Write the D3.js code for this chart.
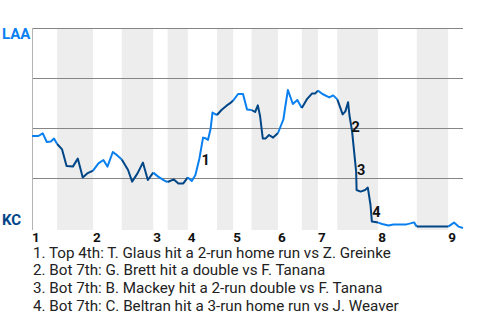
<!DOCTYPE html>
<html>
<head>
    <title>win probability</title>
    <script type="text/javascript" src="https://cdn.jsdelivr.net/npm/d3@7/dist/d3.min.js"></script>
    <style type="text/css">
        body {
            margin: 0;
            background-color: #fff;
        }
        #chart text {
            font-family: Roboto, "Noto Sans", sans-serif;
        }
        .grid line {
            stroke: #858585;
            stroke-width: 1px;
        }
        .band {
            fill: #ededed;
        }
        .inning {
            font-size: 13.5px;
            font-weight: bold;
            fill: #111;
        }
        .note {
            font-size: 14.5px;
            font-weight: bold;
            fill: #111;
        }
        .legend {
            font-size: 15.2px;
            fill: #222;
        }
    </style>
</head>

<body>
    <svg id="chart" width="480" height="320"></svg>
</body>

<script type="text/javascript">
    // play number (game progress) and LAA win probability in %
    let plays = [0, 1.4, 2.4, 3.3, 4.2, 4.9, 5.6, 6.7, 7.7, 9.1, 10.2, 11.3, 12.3, 13.6,
        14.8, 15.9, 16.8, 18.0, 19.0, 20.0, 21.4, 22.3, 23.5, 24.7, 25.8, 27.0,
        28.1, 29.5, 30.2, 31.6, 32.6, 33.7, 34.7, 35.6, 36.4, 37.3, 38.1, 38.6,
        39.2, 39.8, 40.2, 40.5, 41.2, 42.2, 43.4, 44.3, 44.8, 45.9, 47.0, 47.9,
        48.9, 49.7, 50.3, 50.8, 51.4, 52.0, 52.8, 53.7, 54.8, 55.5, 56.0, 56.3,
        57.0, 58.1, 59.1, 60.1, 61.2, 62.4, 63.1, 63.7, 64.7, 66.2, 67.1, 68.0,
        69.2, 69.8, 70.4, 70.7, 71.3, 72.2, 72.3, 73.2, 74.2, 74.8, 75.4, 75.7,
        77.1, 78.0, 79.4, 80.5, 83.4, 84.3, 85.1, 85.7, 92.7, 94.0, 95.0, 96];
    let winProb = [46, 46, 47.3, 43, 43.3, 44.7, 42, 39.3, 31, 30.7, 34.7, 25.3, 27.3, 28.7,
        32.3, 34, 30.7, 38, 36.3, 34.3, 29, 23.2, 27.3, 32.7, 24, 27.7,
        25.7, 23.7, 23, 24.3, 22.3, 22.3, 25.3, 23.5, 26.5, 34.9, 45.2, 44.9,
        44, 49.9, 57.7, 57.3, 56.5, 59, 61.3, 62.7, 63.7, 67, 67, 59.3,
        59, 58, 61.3, 56, 44.8, 44.7, 46.5, 45.2, 47.5, 51.5, 54.3, 59,
        69, 62, 64, 60, 64.3, 67.3, 67.3, 68.7, 67, 65.3, 66.3, 64.3,
        56.8, 58.3, 62.9, 56.5, 48.2, 28.2, 19, 18.2, 19, 20.2, 11.5, 3.2,
        2.7, 2, 1.3, 1.7, 1.8, 2.3, 2.8, 0.7, 0.7, 2.7, 0.7, 0];

    // play number where each half inning starts (top 1st, bot 1st, top 2nd ...)
    let halfStarts = [0, 5.6, 13.6, 20.0, 27.0, 30.2, 34.7, 41.2, 44.8, 48.9,
        54.8, 60.1, 63.7, 68.0, 77.1, 85.7, 92.7];
    let lastPlay = 96;
    let innings = ["1", "2", "3", "4", "5", "6", "7", "8", "9"];
    let gridProb = [100, 75, 50, 25];

    let teams = ["LAA", "KC"];
    let teamColors = ["#0a80f0", "#004687"];

    let notePlays = [38.7, 72.1, 73.3, 76.7];
    let noteProb = [33.7, 50.4, 28.7, 7.7];
    let noteTexts = [
        "1. Top 4th: T. Glaus hit a 2-run home run vs Z. Greinke",
        "2. Bot 7th: G. Brett hit a double vs F. Tanana",
        "3. Bot 7th: B. Mackey hit a 2-run double vs F. Tanana",
        "4. Bot 7th: C. Beltran hit a 3-run home run vs J. Weaver"
    ];

    const plotLeft = 32, plotRight = 463, plotTop = 28, plotZero = 228, plotBottom = 230;

    let svg = d3.select("#chart");
    let x = d3.scaleLinear().domain([0, lastPlay]).range([plotLeft, plotRight]);
    let y = d3.scaleLinear().domain([0, 100]).range([plotZero, plotTop]);

    let halves = halfStarts.map(function(s, i) {
        let e = i + 1 < halfStarts.length ? halfStarts[i + 1] : lastPlay;
        return {start: s, end: e, isTop: i % 2 == 0};
    });

    // bottom halves shaded
    svg.append("g").selectAll("rect")
        .data(halves.filter(function(h) { return !h.isTop; }))
        .join("rect")
        .attr("class", "band")
        .attr("x", function(h) { return x(h.start); })
        .attr("y", plotTop)
        .attr("width", function(h) { return x(h.end) - x(h.start); })
        .attr("height", plotBottom - plotTop);

    svg.append("g").attr("class", "grid").selectAll("line")
        .data(gridProb)
        .join("line")
        .attr("x1", plotLeft).attr("x2", plotRight)
        .attr("y1", function(d) { return Math.round(y(d)) + 0.5; })
        .attr("y2", function(d) { return Math.round(y(d)) + 0.5; });

    svg.append("line")
        .attr("x1", plotLeft + 0.5).attr("x2", plotLeft + 0.5)
        .attr("y1", plotTop).attr("y2", plotBottom)
        .attr("stroke", "#b3b3b3");

    // team labels
    svg.append("text").text(teams[0])
        .attr("x", 2).attr("y", 39)
        .style("font-size", "15px").style("font-weight", "bold")
        .attr("fill", teamColors[0]);
    svg.append("text").text(teams[1])
        .attr("x", 2).attr("y", 224.5)
        .style("font-size", "15px").style("font-weight", "bold")
        .attr("fill", teamColors[1]);

    // line, one piece per half inning
    let data = plays.map(function(p, i) { return {play: p, prob: winProb[i]}; });
    let line = d3.line()
        .x(function(d) { return x(d.play); })
        .y(function(d) { return y(d.prob); });

    svg.append("g").selectAll("path")
        .data(halves)
        .join("path")
        .attr("fill", "none")
        .attr("stroke-width", 2)
        .attr("stroke-linejoin", "round")
        .attr("stroke", function(h) { return h.isTop ? teamColors[0] : teamColors[1]; })
        .attr("d", function(h) {
            return line(data.filter(function(d) { return d.play >= h.start && d.play <= h.end; }));
        });

    // inning labels at start of each top half
    svg.append("g").selectAll("text")
        .data(innings)
        .join("text")
        .attr("class", "inning")
        .attr("x", function(d, i) { return x(halfStarts[i * 2]); })
        .attr("y", 242)
        .text(function(d) { return d; });

    svg.append("g").selectAll("text")
        .data(notePlays)
        .join("text")
        .attr("class", "note")
        .attr("x", function(d) { return x(d); })
        .attr("y", function(d, i) { return y(noteProb[i]); })
        .attr("text-anchor", "middle")
        .attr("dominant-baseline", "central")
        .text(function(d, i) { return i + 1; });

    svg.append("g").selectAll("text")
        .data(noteTexts)
        .join("text")
        .attr("class", "legend")
        .attr("x", 33)
        .attr("y", function(d, i) { return 257.5 + i * 17.8; })
        .text(function(d) { return d; });
</script>

</html>
